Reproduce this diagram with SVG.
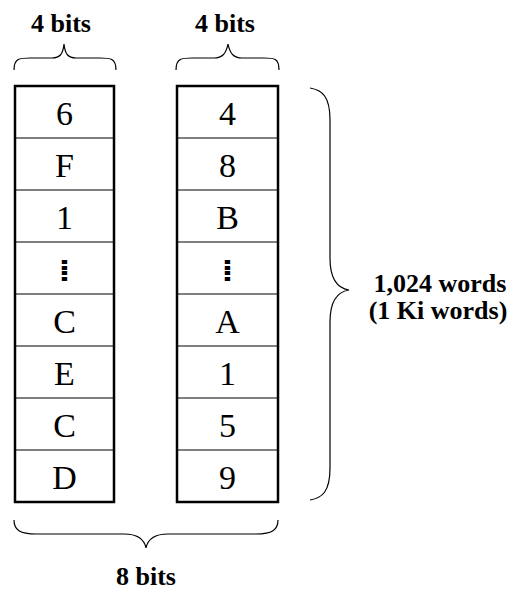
<svg xmlns="http://www.w3.org/2000/svg" width="512" height="590" viewBox="0 0 512 590">
  <style>
    .lbl { font-family: "Liberation Serif", "Times New Roman", serif; font-weight: bold; font-size: 26px; fill: #000; text-anchor: middle; }
    .cell { font-family: "Liberation Serif", "Times New Roman", serif; font-size: 34px; fill: #000; text-anchor: middle; }
    .dots { font-family: "DejaVu Sans", "DejaVu Serif", sans-serif; font-size: 30px; font-weight: bold; fill: #000; text-anchor: middle; }
    .frame { fill: #fff; stroke: #000; stroke-width: 2.5; }
    .row { stroke: #000; stroke-width: 1.2; }
    .brace { fill: none; stroke: #000; stroke-width: 1.2; }
  </style>
  <rect width="512" height="590" fill="#fff"/>

  <!-- left memory column (upper nibble) -->
  <g id="col-left">
    <rect class="frame" x="15" y="86" width="99" height="416"/>
    <line class="row" x1="15" y1="138" x2="114" y2="138"/>
    <line class="row" x1="15" y1="190" x2="114" y2="190"/>
    <line class="row" x1="15" y1="242" x2="114" y2="242"/>
    <line class="row" x1="15" y1="294" x2="114" y2="294"/>
    <line class="row" x1="15" y1="346" x2="114" y2="346"/>
    <line class="row" x1="15" y1="398" x2="114" y2="398"/>
    <line class="row" x1="15" y1="450" x2="114" y2="450"/>
    <text class="cell" x="64.5" y="125">6</text>
    <text class="cell" x="64.5" y="177">F</text>
    <text class="cell" x="64.5" y="229">1</text>
    <text class="dots" x="64.5" y="281">⁞</text>
    <text class="cell" x="64.5" y="333">C</text>
    <text class="cell" x="64.5" y="385">E</text>
    <text class="cell" x="64.5" y="437">C</text>
    <text class="cell" x="64.5" y="489">D</text>
  </g>

  <!-- right memory column (lower nibble) -->
  <g id="col-right">
    <rect class="frame" x="177" y="86" width="101" height="416"/>
    <line class="row" x1="177" y1="138" x2="278" y2="138"/>
    <line class="row" x1="177" y1="190" x2="278" y2="190"/>
    <line class="row" x1="177" y1="242" x2="278" y2="242"/>
    <line class="row" x1="177" y1="294" x2="278" y2="294"/>
    <line class="row" x1="177" y1="346" x2="278" y2="346"/>
    <line class="row" x1="177" y1="398" x2="278" y2="398"/>
    <line class="row" x1="177" y1="450" x2="278" y2="450"/>
    <text class="cell" x="227.5" y="125">4</text>
    <text class="cell" x="227.5" y="177">8</text>
    <text class="cell" x="227.5" y="229">B</text>
    <text class="dots" x="227.5" y="281">⁞</text>
    <text class="cell" x="227.5" y="333">A</text>
    <text class="cell" x="227.5" y="385">1</text>
    <text class="cell" x="227.5" y="437">5</text>
    <text class="cell" x="227.5" y="489">9</text>
  </g>

  <!-- braces -->
  <g id="braces">
    <path class="brace" d="M14,70 C14,58 20,58 30,58 L52,58 C60,58 63,54 64,44 C65,54 68,58 76,58 L100,58 C110,58 116,58 116,70"/>
    <path class="brace" d="M176,70 C176,58 182,58 192,58 L214,58 C222,58 226,54 228,44 C230,54 234,58 242,58 L264,58 C274,58 279,58 279,70"/>
    <path class="brace" d="M14,520 C14,530 20,534 36,534 L124,534 C136,534 144,538 146,548 C148,538 156,534 168,534 L256,534 C272,534 278,530 278,520"/>
    <path class="brace" d="M310,88 C322,90 330,96 330,120 L330,258 C330,278 336,288 349,290 C336,292 330,302 330,322 L330,468 C330,492 322,498 310,500"/>
  </g>

  <!-- labels -->
  <g id="labels">
    <text class="lbl" x="61" y="32">4 bits</text>
    <text class="lbl" x="225" y="32">4 bits</text>
    <text class="lbl" x="146" y="585">8 bits</text>
    <text class="lbl" x="440" y="292">1,024 words</text>
    <text class="lbl" x="438" y="319">(1 Ki words)</text>
  </g>
</svg>
